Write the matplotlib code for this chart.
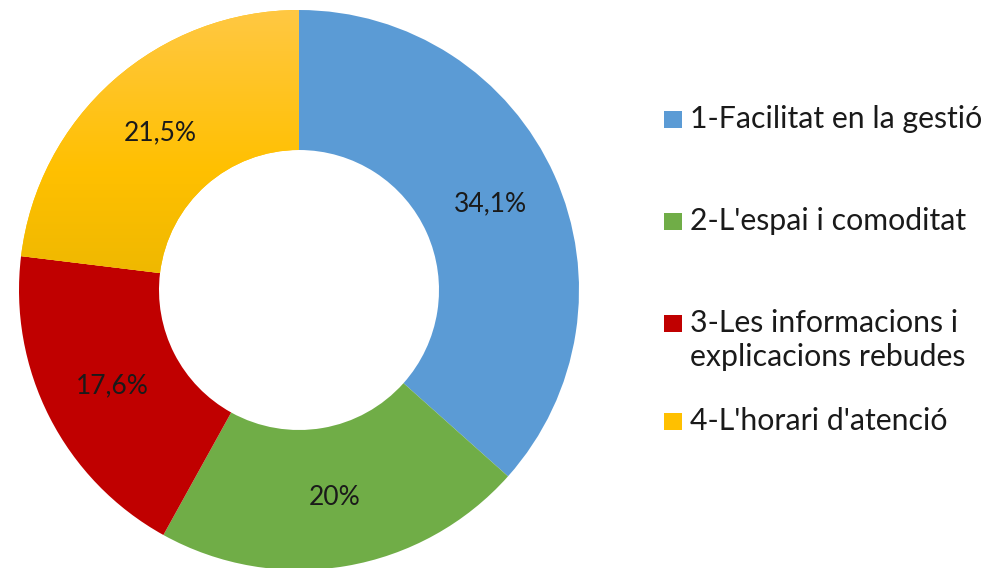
import numpy as np
import matplotlib
matplotlib.use("Agg")
import matplotlib.pyplot as plt
from matplotlib.patches import Rectangle

# chart data
categories = ["1-Facilitat en la gestió", "2-L'espai i comoditat",
              "3-Les informacions i\nexplicacions rebudes", "4-L'horari d'atenció"]
values = [34.1, 20.0, 17.6, 21.5]
value_labels = ["34,1%", "20%", "17,6%", "21,5%"]
colors = ["#5B9BD5", "#70AD47", "#C00000", "#FFC000"]

plt.rcParams["font.family"] = ["Lato", "DejaVu Sans"]

W, H = 1006, 568
fig = plt.figure(figsize=(W / 100, H / 100), dpi=100)

# donut: center (299, 290) px, outer radius 280 px
cx, cy, r = 299, 290, 280
ax = fig.add_axes([(cx - r) / W, (H - cy - r) / H, 2 * r / W, 2 * r / H])
wedges, _ = ax.pie(values, colors=colors, startangle=90, counterclock=False,
                   radius=1, wedgeprops=dict(width=0.5, edgecolor="none"))

# yellow slice: lighter at top, darker near the hole
grad = np.linspace(0, 1, 256).reshape(-1, 1)
cmap = matplotlib.colors.LinearSegmentedColormap.from_list(
    "yel", ["#FFC843", "#FFC000", "#E6B400"])
img = ax.imshow(grad, cmap=cmap, origin="upper", extent=[-1, 0, -0.15, 1],
                aspect="auto", zorder=wedges[3].get_zorder() + 0.1)
img.set_clip_path(wedges[3])
ax.set_xlim(-1, 1)
ax.set_ylim(-1, 1)
ax.set_aspect("equal")
ax.axis("off")

# value labels at 0.75 of the radius
total = sum(values)
start = 90.0
for v, lab in zip(values, value_labels):
    span = v / total * 360
    mid = np.deg2rad(start - span / 2)
    ax.text(0.75 * np.cos(mid), 0.75 * np.sin(mid), lab, ha="center", va="center",
            fontsize=19, color="#1a1a1a", zorder=5)
    start -= span

# legend drawn at the right
leg_y = [119, 221, 323, 421]
line_gap = 34
for lab, col, y in zip(categories, colors, leg_y):
    fig.patches.append(Rectangle((664 / W, (H - y - 9) / H), 18 / W, 17 / H,
                                 transform=fig.transFigure, facecolor=col, edgecolor="none"))
    for i, line in enumerate(lab.split("\n")):
        fig.text(690 / W, (H - y - i * line_gap) / H, line, ha="left", va="center",
                 fontsize=21.8, color="#1a1a1a")

fig.savefig("out.png", dpi=100, facecolor="white")
